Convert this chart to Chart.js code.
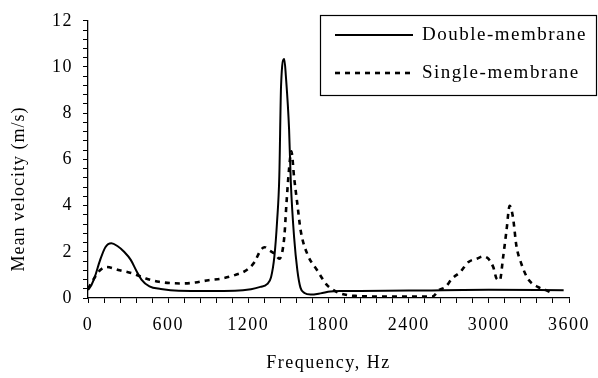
<!DOCTYPE html>
<html>
<head>
<meta charset="utf-8">
<script src="https://cdn.jsdelivr.net/npm/chart.js@4"></script>
<style>
    html, body { margin: 0; padding: 0; background: #ffffff; }
    #grafico { display: block; }
</style>
</head>
<body>
<canvas id="grafico" width="598" height="378"></canvas>
<script>
// ==========================================
// DATA
// ==========================================
const doubleFreq = [0, 25, 50, 90, 130, 175, 220, 270, 320, 360, 400, 460, 545, 680, 900, 1100, 1220, 1290, 1340, 1370, 1395, 1415, 1432, 1445, 1469, 1481, 1505, 1518, 1543, 1567, 1590, 1620, 1666, 1740, 1814, 1900, 2400, 3000, 3560];
const doubleVel = [0.35, 0.55, 0.9, 1.63, 2.2, 2.37, 2.25, 2.0, 1.65, 1.2, 0.8, 0.5, 0.39, 0.31, 0.3, 0.31, 0.38, 0.48, 0.6, 0.9, 1.8, 3.3, 5.3, 9.2, 10.35, 9.6, 7.3, 5.0, 2.6, 1.2, 0.45, 0.22, 0.15, 0.2, 0.28, 0.3, 0.32, 0.36, 0.34];

const singleFreq = [0, 50, 90, 138, 237, 335, 434, 532, 705, 803, 902, 1000, 1099, 1185, 1247, 1291, 1321, 1358, 1400, 1432, 1469, 1485, 1505, 1522, 1543, 1567, 1592, 1641, 1715, 1789, 1838, 1887, 2000, 2300, 2577, 2626, 2676, 2725, 2787, 2848, 2910, 2959, 2996, 3033, 3058, 3082, 3107, 3132, 3156, 3181, 3206, 3243, 3292, 3366, 3427, 3477];
const singleVel = [0.4, 0.89, 1.2, 1.34, 1.2, 1.06, 0.84, 0.7, 0.63, 0.67, 0.77, 0.84, 0.99, 1.2, 1.56, 2.06, 2.2, 2.06, 1.9, 1.7, 2.63, 4.06, 5.6, 6.35, 5.2, 4.06, 2.91, 1.91, 1.2, 0.56, 0.34, 0.2, 0.09, 0.06, 0.06, 0.34, 0.48, 0.84, 1.13, 1.56, 1.7, 1.8, 1.7, 1.34, 0.84, 0.77, 1.77, 2.91, 3.99, 3.48, 2.27, 1.49, 0.84, 0.48, 0.34, 0.2];

const seriesNames = ["Double-membrane", "Single-membrane"];
const xLabelStep = 600;   // labelled ticks on frequency axis
const yLabelStep = 2;     // labelled ticks on velocity axis
const xTitle = "Frequency, Hz";
const yTitle = "Mean velocity (m/s)";

const FONTE = "'Liberation Serif', 'Times New Roman', serif";

document.addEventListener("DOMContentLoaded", function () {
    criarGrafico();
});

function pares(xs, ys) {
    return xs.map(function (x, i) { return { x: x, y: ys[i] }; });
}

function ehMultiplo(valor, passo) {
    const r = valor / passo;
    return Math.abs(r - Math.round(r)) < 1e-6;
}

// ==========================================
// LEGEND BOX + ROTATED Y TITLE
// ==========================================
const extras = {
    id: "extras",
    beforeDraw: function (chart) {
        chart.ctx.letterSpacing = "1.5px";
    },
    afterDraw: function (chart) {
        const ctx = chart.ctx;
        const area = chart.chartArea;

        // y axis title (sits a bit below the axis middle in the original)
        ctx.save();
        ctx.letterSpacing = "1px";
        ctx.fillStyle = "#000";
        ctx.font = "18px " + FONTE;
        ctx.translate(19, area.top + (area.bottom - area.top) * 0.607);
        ctx.rotate(-Math.PI / 2);
        ctx.textAlign = "center";
        ctx.textBaseline = "middle";
        ctx.fillText(yTitle, 0, 0);
        ctx.restore();

        // legend
        const caixaX = chart.width - 278;
        const caixaY = 15;
        ctx.save();
        ctx.strokeStyle = "#000";
        ctx.lineWidth = 1.2;
        ctx.strokeRect(caixaX + 0.5, caixaY + 0.5, 276, 80);

        ctx.font = "19px " + FONTE;
        ctx.letterSpacing = "1.5px";
        ctx.fillStyle = "#000";
        ctx.textBaseline = "middle";
        ctx.textAlign = "left";

        chart.data.datasets.forEach(function (ds, i) {
            const y = caixaY + 20 + i * 38;
            ctx.beginPath();
            ctx.lineWidth = ds.borderWidth;
            ctx.setLineDash(ds.borderDash || []);
            ctx.moveTo(caixaX + 15, y);
            ctx.lineTo(caixaX + 93, y);
            ctx.stroke();
            ctx.setLineDash([]);
            ctx.fillText(ds.label, caixaX + 102, y);
        });
        ctx.restore();
    }
};

// ==========================================
// CHART
// ==========================================
function criarGrafico() {
    const ctx = document.getElementById("grafico");
    if (!ctx) return;

    const fonteTicks = { family: FONTE, size: 18 };

    new Chart(ctx, {
        type: "line",
        data: {
            datasets: [{
                label: seriesNames[0],
                data: pares(doubleFreq, doubleVel),
                borderColor: "#000",
                borderWidth: 2,
                pointRadius: 0,
                cubicInterpolationMode: "monotone",
                fill: false
            }, {
                label: seriesNames[1],
                data: pares(singleFreq, singleVel),
                borderColor: "#000",
                borderWidth: 2.6,
                borderDash: [5, 5],
                pointRadius: 0,
                cubicInterpolationMode: "monotone",
                fill: false
            }]
        },
        options: {
            responsive: false,
            animation: false,
            layout: { padding: { top: 18, right: 23, left: 0, bottom: 0 } },
            plugins: {
                legend: { display: false },
                tooltip: { enabled: false }
            },
            scales: {
                x: {
                    type: "linear",
                    min: 0,
                    max: 3600,
                    afterFit: function (scale) { scale.height = 80; },
                    ticks: {
                        stepSize: 120,
                        autoSkip: false,
                        maxRotation: 0,
                        color: "#000",
                        font: fonteTicks,
                        padding: 11,
                        callback: function (v) { return ehMultiplo(v, xLabelStep) ? String(Math.round(v)) : ""; }
                    },
                    grid: { drawOnChartArea: false, tickLength: 5, color: "#000" },
                    border: { color: "#000", width: 1.3 },
                    title: {
                        display: true,
                        text: xTitle,
                        color: "#000",
                        font: { family: FONTE, size: 18 },
                        padding: { top: 0, bottom: 4 }
                    }
                },
                y: {
                    min: 0,
                    max: 12,
                    afterFit: function (scale) { scale.width = 88; },
                    ticks: {
                        stepSize: 0.4,
                        autoSkip: false,
                        color: "#000",
                        font: fonteTicks,
                        padding: 10,
                        callback: function (v) { return ehMultiplo(v, yLabelStep) ? String(Math.round(v)) : ""; }
                    },
                    grid: { drawOnChartArea: false, tickLength: 5, color: "#000" },
                    border: { color: "#000", width: 1.3 }
                }
            }
        },
        plugins: [extras]
    });
}
</script>
</body>
</html>
